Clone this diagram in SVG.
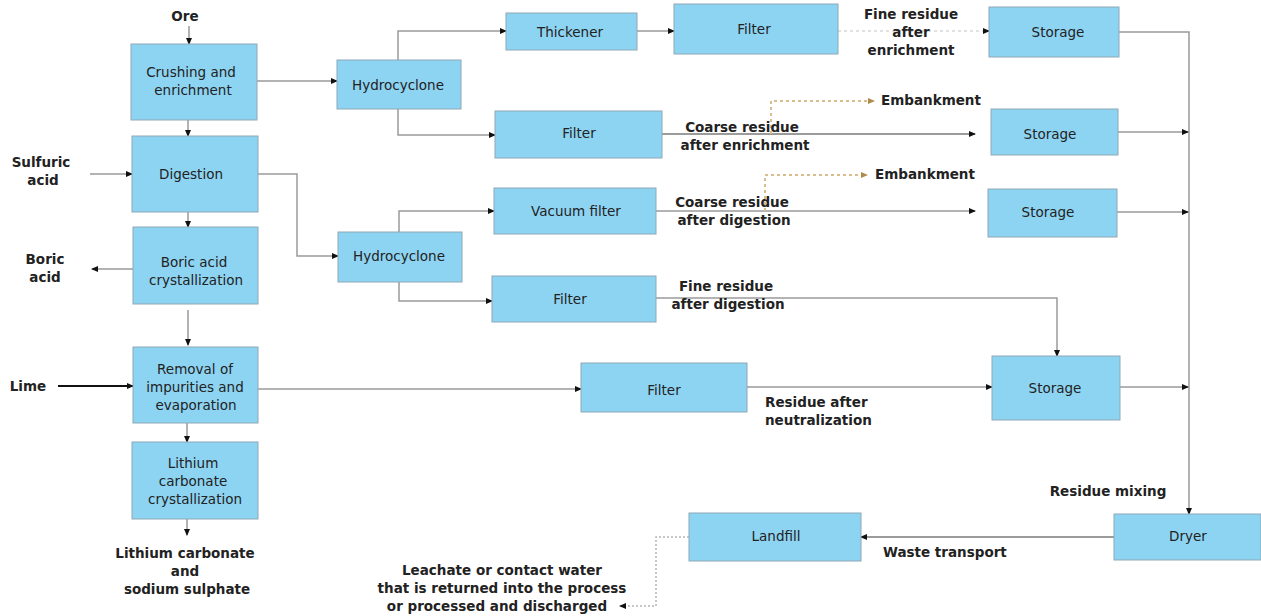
<svg xmlns="http://www.w3.org/2000/svg" width="1261" height="616" viewBox="0 0 1261 616">
<style>
.box{fill:#8dd4f2;stroke:#8fa8b5;stroke-width:1}
.bt{font-family:"DejaVu Sans",sans-serif;font-size:13.5px;fill:#222;text-anchor:middle;dominant-baseline:central}
.lb{font-family:"DejaVu Sans",sans-serif;font-size:13.5px;font-weight:bold;fill:#222;dominant-baseline:central}
.c{fill:none;stroke:#9a9a9a;stroke-width:1.5}
.cd{fill:none;stroke:#7a7a7a;stroke-width:1.5}
.faint{fill:none;stroke:#d8d8d8;stroke-width:1.5;stroke-dasharray:3 3}
.orange{fill:none;stroke:#d9bd8c;stroke-width:2;stroke-dasharray:3 3}
.gdot{fill:none;stroke:#b5b5b5;stroke-width:1.5;stroke-dasharray:2 2}
.lime{fill:none;stroke:#111;stroke-width:2}
</style>
<defs>
<marker id="a" markerUnits="userSpaceOnUse" markerWidth="7" markerHeight="6" refX="6" refY="3" orient="auto">
<path d="M0,0 L7,3 L0,6 z" fill="#111"/>
</marker>
<marker id="ao" markerUnits="userSpaceOnUse" markerWidth="7" markerHeight="6" refX="6" refY="3" orient="auto">
<path d="M0,0 L7,3 L0,6 z" fill="#b08a4a"/>
</marker>
</defs>
<rect width="1261" height="616" fill="#fff"/>

<g id="connectors">
<path class="c" d="M189,26 L189,44" marker-end="url(#a)"/>
<path class="c" d="M257,81 L337,81" marker-end="url(#a)"/>
<path class="c" d="M188,120 L188,136" marker-end="url(#a)"/>
<path class="c" d="M90,174 L132,174" marker-end="url(#a)"/>
<path class="c" d="M188,212 L188,227" marker-end="url(#a)"/>
<path class="c" d="M258,174 L297,174 L297,256 L338,256" marker-end="url(#a)"/>
<path class="c" d="M398,60 L398,31 L506,31" marker-end="url(#a)"/>
<path class="c" d="M398,109 L398,135 L495,135" marker-end="url(#a)"/>
<path class="c" d="M399,232 L399,211 L494,211" marker-end="url(#a)"/>
<path class="c" d="M399,282 L399,301 L492,301" marker-end="url(#a)"/>
<path class="c" d="M637,31 L674,31" marker-end="url(#a)"/>
<path class="faint" d="M838,31 L983,31"/>
<path d="M983,31 L989,31" class="c" marker-end="url(#a)"/>
<path class="cd" d="M662,134 L975,134" marker-end="url(#a)"/>
<path class="orange" d="M771,134 L771,101 L874,101" marker-end="url(#ao)"/>
<path class="c" d="M656,211 L975,211" marker-end="url(#a)"/>
<path class="orange" d="M765,211 L765,175 L867,175" marker-end="url(#ao)"/>
<path class="c" d="M656,298 L1057,298 L1057,356" marker-end="url(#a)"/>
<path class="c" d="M258,389 L581,389" marker-end="url(#a)"/>
<path class="c" d="M747,387 L992,387" marker-end="url(#a)"/>
<path class="c" d="M1119,32 L1189,32 L1189,514" marker-end="url(#a)"/>
<path class="c" d="M1118,132 L1188,132" marker-end="url(#a)"/>
<path class="c" d="M1117,212 L1188,212" marker-end="url(#a)"/>
<path class="c" d="M1120,387 L1188,387" marker-end="url(#a)"/>
<path class="cd" d="M1114,537 L861,537" marker-end="url(#a)"/>
<path class="gdot" d="M689,537 L656,537 L656,606 L620,606" marker-end="url(#a)"/>
<path class="c" d="M133,269 L92,269" marker-end="url(#a)"/>
<path class="c" d="M188,310 L188,345" marker-end="url(#a)"/>
<path class="lime" d="M58,386 L133,386" marker-end="url(#a)"/>
<path class="c" d="M187,423 L187,442" marker-end="url(#a)"/>
<path class="c" d="M187,519 L187,535" marker-end="url(#a)"/>
</g>

<g id="crushing"><rect class="box" x="131" y="44" width="126" height="76"/><text class="bt" x="191" y="72">Crushing and</text><text class="bt" x="193" y="90">enrichment</text></g>
<g id="digestion"><rect class="box" x="132" y="136" width="126" height="76"/><text class="bt" x="191" y="174">Digestion</text></g>
<g id="boric"><rect class="box" x="133" y="227" width="125" height="77"/><text class="bt" x="194" y="262">Boric acid</text><text class="bt" x="196" y="280">crystallization</text></g>
<g id="removal"><rect class="box" x="133" y="347" width="125" height="76"/><text class="bt" x="195" y="369">Removal of</text><text class="bt" x="195" y="387">impurities and</text><text class="bt" x="196" y="405">evaporation</text></g>
<g id="lithium"><rect class="box" x="132" y="442" width="126" height="77"/><text class="bt" x="193" y="463">Lithium</text><text class="bt" x="193" y="481">carbonate</text><text class="bt" x="195" y="499">crystallization</text></g>
<g id="hydro1"><rect class="box" x="337" y="60" width="124" height="49"/><text class="bt" x="398" y="85">Hydrocyclone</text></g>
<g id="hydro2"><rect class="box" x="338" y="232" width="124" height="50"/><text class="bt" x="399" y="256">Hydrocyclone</text></g>
<g id="thickener"><rect class="box" x="506" y="13" width="131" height="37"/><text class="bt" x="570" y="32">Thickener</text></g>
<g id="filter1"><rect class="box" x="674" y="4" width="164" height="50"/><text class="bt" x="754" y="29">Filter</text></g>
<g id="filter2"><rect class="box" x="495" y="111" width="167" height="47"/><text class="bt" x="579" y="133">Filter</text></g>
<g id="vacuum"><rect class="box" x="494" y="188" width="162" height="46"/><text class="bt" x="576" y="211">Vacuum filter</text></g>
<g id="filter3"><rect class="box" x="492" y="276" width="164" height="46"/><text class="bt" x="570" y="299">Filter</text></g>
<g id="filter4"><rect class="box" x="581" y="363" width="166" height="49"/><text class="bt" x="664" y="390">Filter</text></g>
<g id="storage1"><rect class="box" x="989" y="7" width="130" height="50"/><text class="bt" x="1058" y="32">Storage</text></g>
<g id="storage2"><rect class="box" x="991" y="109" width="127" height="46"/><text class="bt" x="1050" y="134">Storage</text></g>
<g id="storage3"><rect class="box" x="988" y="189" width="129" height="48"/><text class="bt" x="1048" y="212">Storage</text></g>
<g id="storage4"><rect class="box" x="992" y="356" width="128" height="64"/><text class="bt" x="1055" y="388">Storage</text></g>
<g id="dryer"><rect class="box" x="1114" y="514" width="147" height="46"/><text class="bt" x="1188" y="536">Dryer</text></g>
<g id="landfill"><rect class="box" x="689" y="513" width="172" height="48"/><text class="bt" x="776" y="536">Landfill</text></g>

<g id="labels">
<text class="lb" x="185" y="16" text-anchor="middle">Ore</text>
<text class="lb" x="41" y="162" text-anchor="middle">Sulfuric</text>
<text class="lb" x="43" y="180" text-anchor="middle">acid</text>
<text class="lb" x="45" y="259" text-anchor="middle">Boric</text>
<text class="lb" x="45" y="277" text-anchor="middle">acid</text>
<text class="lb" x="28" y="386" text-anchor="middle">Lime</text>
<text class="lb" x="185" y="553" text-anchor="middle">Lithium carbonate</text>
<text class="lb" x="185" y="571" text-anchor="middle">and</text>
<text class="lb" x="187" y="589" text-anchor="middle">sodium sulphate</text>
<text class="lb" x="911" y="14" text-anchor="middle">Fine residue</text>
<text class="lb" x="911" y="32" text-anchor="middle">after</text>
<text class="lb" x="911" y="50" text-anchor="middle">enrichment</text>
<text class="lb" x="881" y="100">Embankment</text>
<text class="lb" x="742" y="127" text-anchor="middle">Coarse residue</text>
<text class="lb" x="745" y="145" text-anchor="middle">after enrichment</text>
<text class="lb" x="875" y="174">Embankment</text>
<text class="lb" x="732" y="202" text-anchor="middle">Coarse residue</text>
<text class="lb" x="734" y="220" text-anchor="middle">after digestion</text>
<text class="lb" x="726" y="286" text-anchor="middle">Fine residue</text>
<text class="lb" x="728" y="304" text-anchor="middle">after digestion</text>
<text class="lb" x="765" y="402">Residue after</text>
<text class="lb" x="765" y="420">neutralization</text>
<text class="lb" x="1108" y="491" text-anchor="middle">Residue mixing</text>
<text class="lb" x="883" y="552">Waste transport</text>
<text class="lb" x="502" y="570" text-anchor="middle">Leachate or contact water</text>
<text class="lb" x="502" y="588" text-anchor="middle">that is returned into the process</text>
<text class="lb" x="497" y="606" text-anchor="middle">or processed and discharged</text>
</g>
</svg>
